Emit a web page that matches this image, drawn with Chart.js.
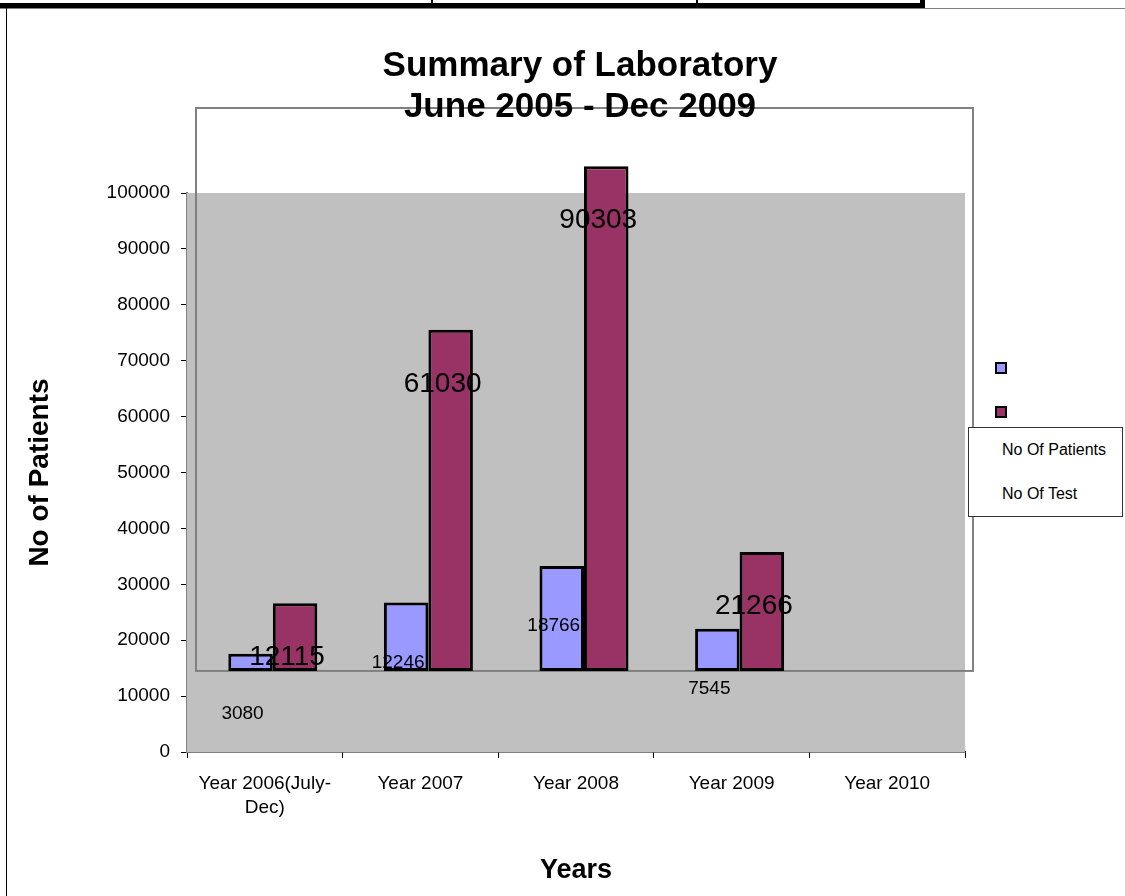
<!DOCTYPE html>
<html>
<head>
<meta charset="utf-8">
<title>Summary of Laboratory</title>
<script src="https://cdn.jsdelivr.net/npm/chart.js"></script>
<style>
    body { margin: 0; background: #fff; font-family: "Liberation Sans", Arial, sans-serif; }
    #wrap { position: relative; width: 1125px; height: 896px; overflow: hidden; }
    #lab-chart { position: absolute; left: 0; top: 0; }
    .line { position: absolute; background: #000; }
    #title { position: absolute; left: 230px; top: 43px; width: 700px; text-align: center;
             font-weight: bold; font-size: 35px; line-height: 41px; color: #000; }
    .swatch { position: absolute; left: 995px; width: 8px; height: 8px; border: 2px solid #000; }
    #legend-box { position: absolute; left: 968px; top: 427px; width: 153px; height: 88px;
                  background: #fff; border: 1px solid #333; font-size: 16px; }
    #legend-box div { position: absolute; left: 33px; }
</style>
</head>
<body>
<div id="wrap">
    <canvas id="lab-chart" width="1125" height="896"></canvas>

    <!-- sheet cell borders around the chart -->
    <div class="line" style="left:0;top:8px;width:1125px;height:1px;background:#808080"></div>
    <div class="line" style="left:0;top:3px;width:925px;height:5px"></div>
    <div class="line" style="left:431px;top:0;width:2px;height:5px"></div>
    <div class="line" style="left:696px;top:0;width:2px;height:5px"></div>
    <div class="line" style="left:920px;top:0;width:5px;height:8px"></div>
    <div class="line" style="left:6px;top:8px;width:1px;height:888px"></div>

    <div id="title">Summary of Laboratory<br>June 2005 - Dec 2009</div>

    <div class="swatch" style="top:362px;background:#9999ff"></div>
    <div class="swatch" style="top:406px;background:#993366"></div>
    <div id="legend-box">
        <div style="top:13px">No Of Patients</div>
        <div style="top:57px">No Of Test</div>
    </div>
</div>

<script>
var aYears = ['Year 2006(July-Dec)', 'Year 2007', 'Year 2008', 'Year 2009', 'Year 2010'];
var aPatients = [3080, 12246, 18766, 7545];
var aTests = [12115, 61030, 90303, 21266];
var aYTicks = [0, 10000, 20000, 30000, 40000, 50000, 60000, 70000, 80000, 90000, 100000];
// the bars in the sheet sit on a raised floor, not on zero
var nFloor = 14500;

document.addEventListener('DOMContentLoaded', function()
{
    var sFont = '"Liberation Sans", Arial, sans-serif';
    var nShiftX = 8;

    var oPlotBack = {
        id: 'plotBack',
        beforeDatasetsDraw: function(chart) {
            var c = chart.ctx, a = chart.chartArea;
            c.save();
            c.fillStyle = '#c0c0c0';
            c.fillRect(a.left, a.top, a.right - a.left, a.bottom - a.top);
            // shifted plot frame
            var yFloor = chart.scales.y.getPixelForValue(nFloor);
            c.strokeStyle = '#808080';
            c.lineWidth = 2;
            c.strokeRect(a.left + 9, 108, a.right - a.left - 1, yFloor - 108);
            c.restore();
            c.save();
            c.translate(nShiftX, 0);
        },
        afterDatasetsDraw: function(chart) {
            chart.ctx.restore();
            var c = chart.ctx;
            c.save();
            c.fillStyle = '#000';
            c.textAlign = 'center';
            c.textBaseline = 'middle';
            chart.data.datasets.forEach(function(ds, i) {
                chart.getDatasetMeta(i).data.forEach(function(bar, j) {
                    c.font = ds.labelSize + 'px ' + sFont;
                    c.fillText(String(ds.values[j]), bar.x, bar.y + ds.labelDrop);
                });
            });
            c.restore();
        }
    };

    new Chart(document.getElementById('lab-chart'), {
        type: 'bar',
        data: {
            labels: aYears.map(function(s) {
                return s === 'Year 2006(July-Dec)' ? ['Year 2006(July-', 'Dec)'] : s;
            }),
            datasets: [
                {
                    label: 'No Of Patients',
                    values: aPatients,
                    data: aPatients.map(function(v) { return [nFloor, nFloor + v]; }),
                    backgroundColor: '#9999ff',
                    borderColor: '#000',
                    borderWidth: 3,
                    borderSkipped: false,
                    clip: false,
                    labelSize: 19,
                    labelDrop: 60
                }, {
                    label: 'No Of Test',
                    values: aTests,
                    data: aTests.map(function(v) { return [nFloor, nFloor + v]; }),
                    backgroundColor: '#993366',
                    borderColor: '#000',
                    borderWidth: 3,
                    borderSkipped: false,
                    clip: false,
                    labelSize: 28,
                    labelDrop: 54
                }
            ]
        },
        options: {
            responsive: false,
            animation: false,
            categoryPercentage: 0.572,
            barPercentage: 1,
            layout: { padding: { top: 193, right: 160, bottom: 0, left: 0 } },
            plugins: {
                legend: { display: false },
                tooltip: { enabled: false }
            },
            scales: {
                x: {
                    afterFit: function(scale) { scale.height = 144; },
                    grid: { offset: true, drawOnChartArea: false, color: '#000', tickLength: 6 },
                    border: { color: '#000', width: 1.5 },
                    ticks: {
                        color: '#000', padding: 14, maxRotation: 0, autoSkip: false,
                        font: { family: sFont, size: 19, lineHeight: 1.25 }
                    },
                    title: {
                        display: true, text: 'Years', color: '#000',
                        padding: { top: 9, bottom: 9 },
                        font: { family: sFont, size: 27, weight: 'bold' }
                    }
                },
                y: {
                    min: aYTicks[0],
                    max: aYTicks[aYTicks.length - 1],
                    afterFit: function(scale) { scale.width = 187; },
                    afterBuildTicks: function(scale) {
                        scale.ticks = aYTicks.map(function(v) { return { value: v }; });
                    },
                    grid: { drawOnChartArea: false, color: '#000', tickLength: 6 },
                    border: { color: '#808080', width: 2 },
                    ticks: {
                        color: '#000', padding: 11,
                        font: { family: sFont, size: 19 },
                        callback: function(v) { return String(v); }
                    },
                    title: {
                        display: true, text: 'No of Patients', color: '#000',
                        padding: { top: 23, bottom: 23 },
                        font: { family: sFont, size: 28, weight: 'bold' }
                    }
                }
            }
        },
        plugins: [oPlotBack]
    });
});
</script>
</body>
</html>
